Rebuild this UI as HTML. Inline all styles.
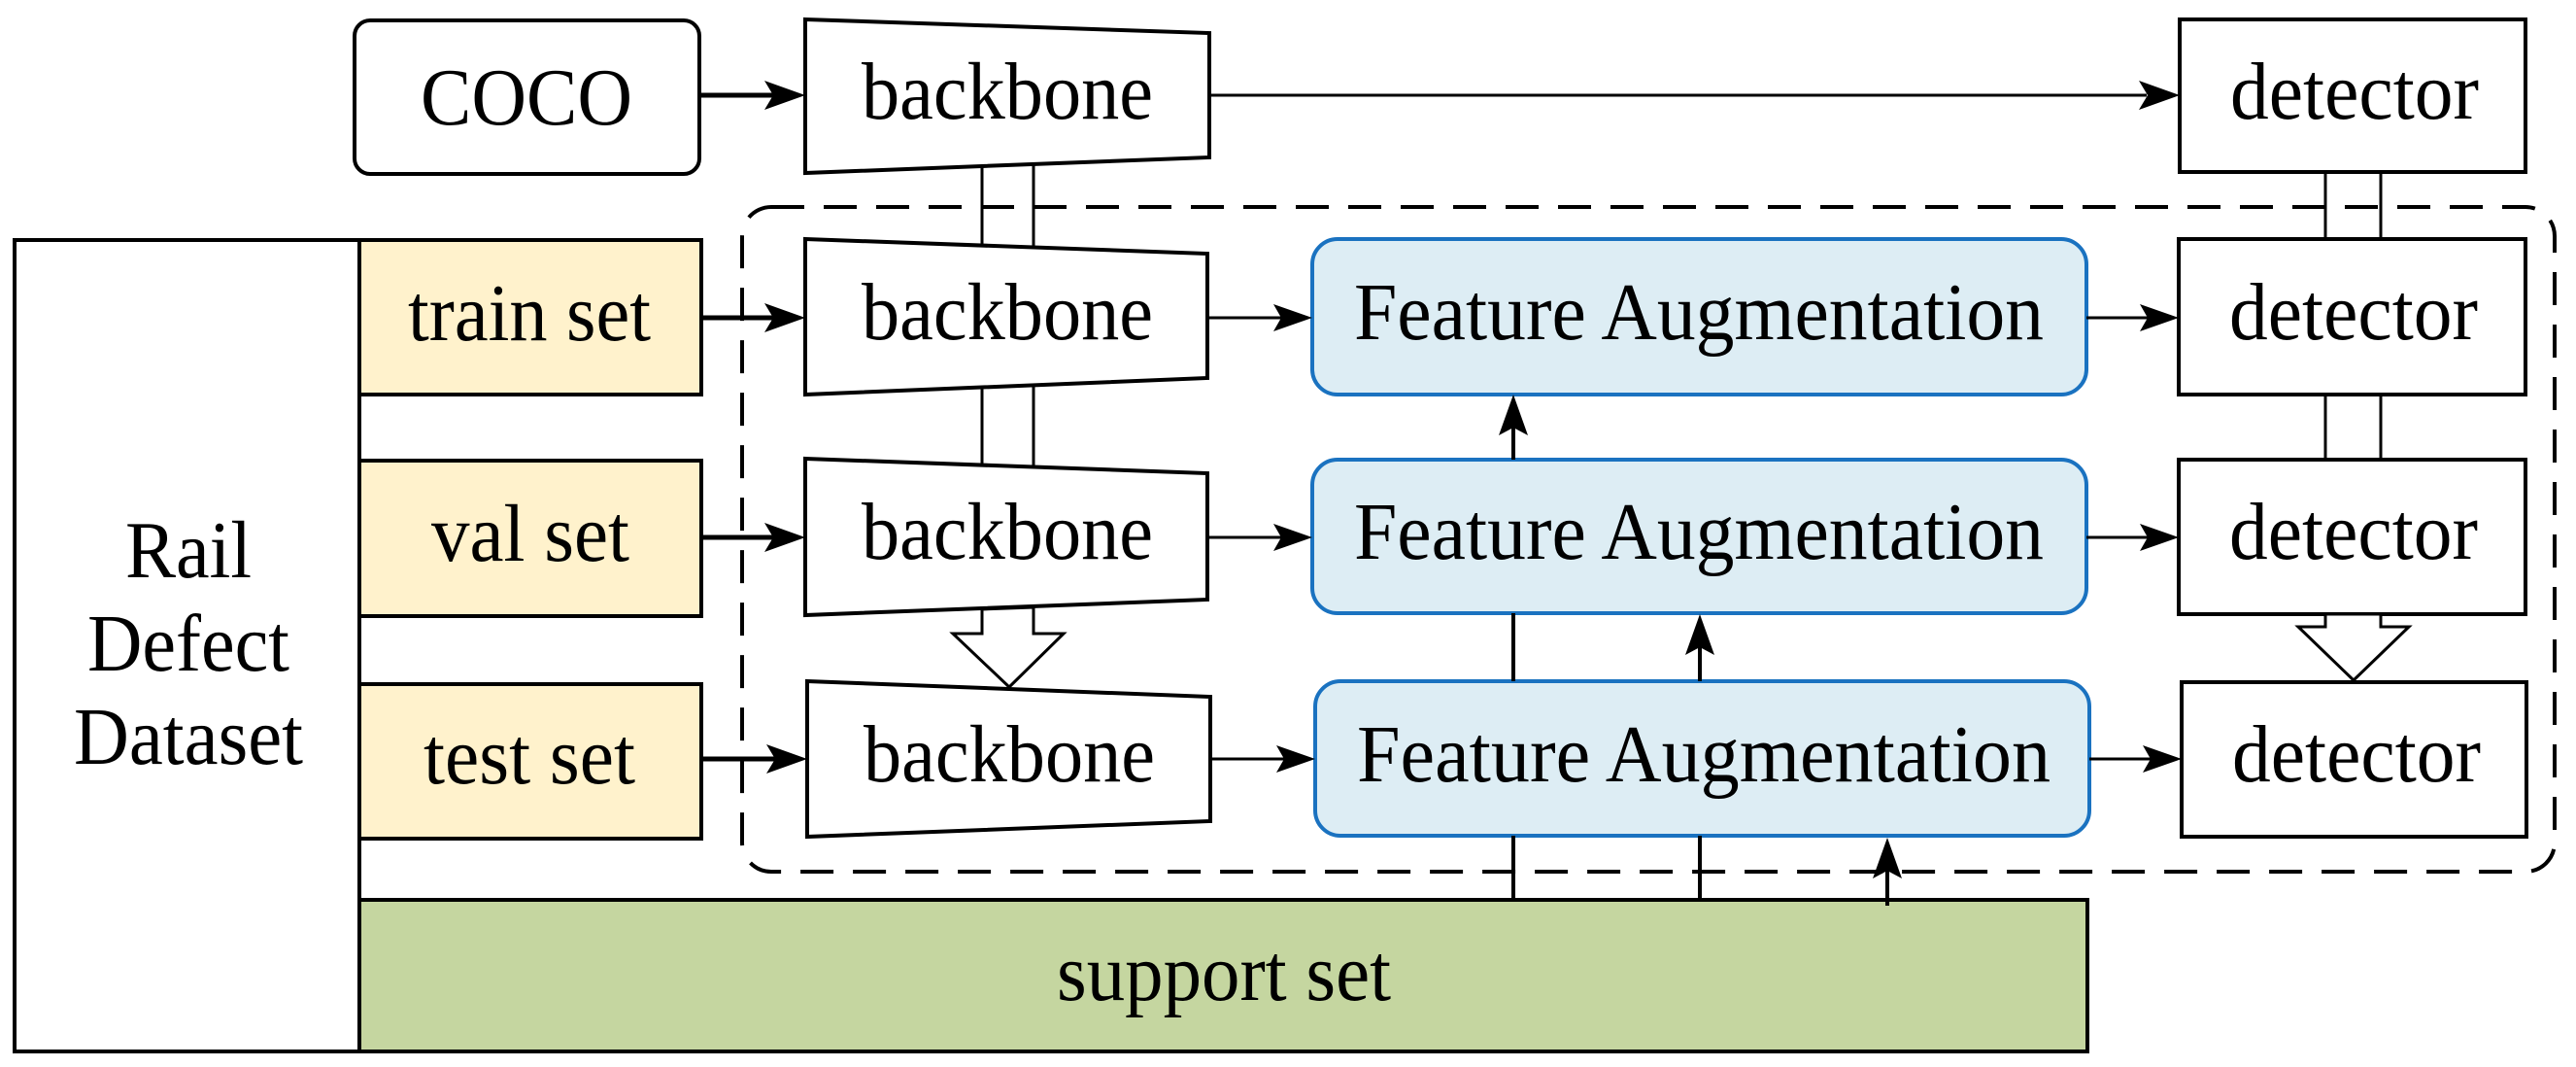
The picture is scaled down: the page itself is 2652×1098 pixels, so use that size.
<!DOCTYPE html>
<html><head><meta charset="utf-8"><style>html,body{margin:0;padding:0;background:#fff}svg{display:block}</style></head>
<body>
<svg width="2652" height="1098" viewBox="0 0 2652 1098" xmlns="http://www.w3.org/2000/svg">
<g fill="none" stroke="#000" stroke-width="4">
<rect x="764" y="213" width="1866" height="684" rx="30" stroke-dasharray="34,20" stroke-width="4"/>
<rect x="365" y="21" width="355" height="158" rx="16" fill="#fff"/>
<polygon points="829,20 1245,34 1245,162 829,178" fill="#fff"/>
<polygon points="829,246 1243,261 1243,389 829,406" fill="#fff"/>
<polygon points="829,472 1243,487 1243,617 829,633" fill="#fff"/>
<polygon points="831,701 1246,717 1246,845 831,861" fill="#fff"/>
<rect x="2244" y="20" width="356" height="157" fill="#fff"/>
<rect x="2243" y="246" width="357" height="160" fill="#fff"/>
<rect x="2243" y="473" width="357" height="159" fill="#fff"/>
<rect x="2246" y="702" width="355" height="159" fill="#fff"/>
<rect x="15" y="247" width="355" height="835" fill="#fff"/>
<rect x="370" y="247" width="352" height="159" fill="#fff2cc"/>
<rect x="370" y="474" width="352" height="160" fill="#fff2cc"/>
<rect x="370" y="704" width="352" height="159" fill="#fff2cc"/>
<rect x="370" y="926" width="1779" height="156" fill="#c5d6a0"/>
<rect x="1351" y="246" width="797" height="160" rx="26" fill="#ddedf4" stroke="#1a72c0"/>
<rect x="1351" y="473" width="797" height="158" rx="26" fill="#ddedf4" stroke="#1a72c0"/>
<rect x="1354" y="701" width="797" height="159" rx="26" fill="#ddedf4" stroke="#1a72c0"/>
<line x1="1011" y1="172" x2="1011" y2="252" stroke-width="3"/>
<line x1="1064" y1="170" x2="1064" y2="254" stroke-width="3"/>
<line x1="1011" y1="400" x2="1011" y2="478" stroke-width="3"/>
<line x1="1064" y1="398" x2="1064" y2="480" stroke-width="3"/>
<polygon points="1011,627 1011,652 981,652 1039,707 1095,652 1064,652 1064,625" fill="#fff" stroke-width="3"/>
<line x1="2394" y1="177" x2="2394" y2="246" stroke-width="3"/>
<line x1="2451" y1="177" x2="2451" y2="246" stroke-width="3"/>
<line x1="2394" y1="406" x2="2394" y2="473" stroke-width="3"/>
<line x1="2451" y1="406" x2="2451" y2="473" stroke-width="3"/>
<polygon points="2394,632 2394,645 2366,645 2423,700 2480,645 2451,645 2451,632" fill="#fff" stroke-width="3"/>
<line x1="720" y1="98" x2="800" y2="98" stroke-width="5"/>
<line x1="1245" y1="98" x2="2210" y2="98" stroke-width="3"/>
<line x1="722" y1="327" x2="800" y2="327" stroke-width="5"/>
<line x1="722" y1="553" x2="800" y2="553" stroke-width="5"/>
<line x1="722" y1="781" x2="800" y2="781" stroke-width="5"/>
<line x1="1243" y1="327" x2="1320" y2="327" stroke-width="3"/>
<line x1="1243" y1="553" x2="1320" y2="553" stroke-width="3"/>
<line x1="1246" y1="781" x2="1322" y2="781" stroke-width="3"/>
<line x1="2148" y1="327" x2="2212" y2="327" stroke-width="3"/>
<line x1="2148" y1="553" x2="2212" y2="553" stroke-width="3"/>
<line x1="2151" y1="781" x2="2215" y2="781" stroke-width="3"/>
<line x1="1558" y1="926" x2="1558" y2="860"/>
<line x1="1558" y1="701" x2="1558" y2="631"/>
<line x1="1558" y1="473" x2="1558" y2="435"/>
<line x1="1750" y1="926" x2="1750" y2="860"/>
<line x1="1750" y1="701" x2="1750" y2="660"/>
<line x1="1943" y1="932" x2="1943" y2="892"/>
</g>
<g fill="#000">
<polygon points="829,98 787,83 796,98 787,113"/>
<polygon points="2244,98 2202,83 2211,98 2202,113"/>
<polygon points="829,327 787,312 796,327 787,342"/>
<polygon points="829,553 787,538 796,553 787,568"/>
<polygon points="831,781 789,766 798,781 789,796"/>
<polygon points="1351,327 1311,313 1319,327 1311,341"/>
<polygon points="1351,553 1311,539 1319,553 1311,567"/>
<polygon points="1354,781 1314,767 1322,781 1314,795"/>
<polygon points="2243,327 2203,313 2211,327 2203,341"/>
<polygon points="2243,553 2203,539 2211,553 2203,567"/>
<polygon points="2246,781 2206,767 2214,781 2206,795"/>
<polygon points="1558,406 1543,448 1558,440 1573,448"/>
<polygon points="1750,632 1735,674 1750,666 1765,674"/>
<polygon points="1943,862 1928,904 1943,896 1958,904"/>
</g>
<g font-family="Liberation Serif, serif" font-size="84" fill="#000" text-anchor="middle">
<text x="542" y="128" textLength="218" lengthAdjust="spacingAndGlyphs">COCO</text>
<text x="1037" y="122" textLength="300" lengthAdjust="spacingAndGlyphs">backbone</text>
<text x="1037" y="349" textLength="300" lengthAdjust="spacingAndGlyphs">backbone</text>
<text x="1037" y="575" textLength="300" lengthAdjust="spacingAndGlyphs">backbone</text>
<text x="1039" y="804" textLength="300" lengthAdjust="spacingAndGlyphs">backbone</text>
<text x="2424" y="122" textLength="256" lengthAdjust="spacingAndGlyphs">detector</text>
<text x="2423" y="349" textLength="256" lengthAdjust="spacingAndGlyphs">detector</text>
<text x="2423" y="575" textLength="256" lengthAdjust="spacingAndGlyphs">detector</text>
<text x="2426" y="804" textLength="256" lengthAdjust="spacingAndGlyphs">detector</text>
<text x="545" y="350" textLength="250" lengthAdjust="spacingAndGlyphs">train set</text>
<text x="546" y="577" textLength="204" lengthAdjust="spacingAndGlyphs">val set</text>
<text x="545" y="806" textLength="218" lengthAdjust="spacingAndGlyphs">test set</text>
<text x="1749" y="349" textLength="710" lengthAdjust="spacingAndGlyphs">Feature Augmentation</text>
<text x="1749" y="575" textLength="710" lengthAdjust="spacingAndGlyphs">Feature Augmentation</text>
<text x="1754" y="804" textLength="714" lengthAdjust="spacingAndGlyphs">Feature Augmentation</text>
<text x="1260" y="1029" textLength="344" lengthAdjust="spacingAndGlyphs">support set</text>
<text x="194" y="594" textLength="130" lengthAdjust="spacingAndGlyphs">Rail</text>
<text x="194" y="690" textLength="208" lengthAdjust="spacingAndGlyphs">Defect</text>
<text x="194" y="786" textLength="236" lengthAdjust="spacingAndGlyphs">Dataset</text>
</g>
</svg>
</body></html>
